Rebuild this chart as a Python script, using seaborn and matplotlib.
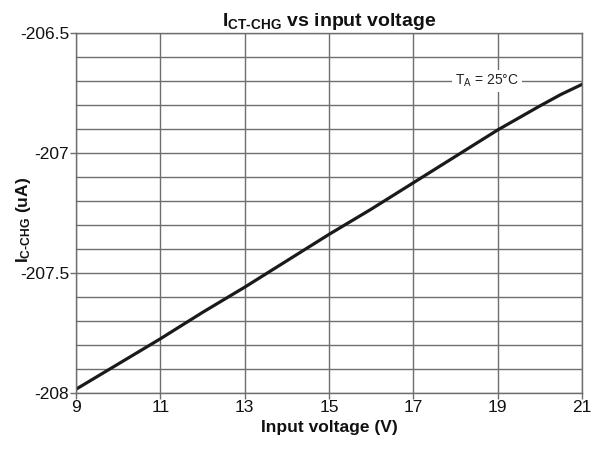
import matplotlib
matplotlib.use("Agg")
import matplotlib.pyplot as plt
import seaborn as sns
import pandas as pd
from matplotlib.ticker import MultipleLocator, FuncFormatter

voltage = [9, 10, 11, 12, 13, 14, 15, 16, 17, 18, 19, 20, 20.5, 21]
current = [-207.985, -207.88, -207.775, -207.665, -207.56, -207.45, -207.34,
           -207.235, -207.125, -207.015, -206.905, -206.805, -206.757, -206.715]
x_ticks = [9, 11, 13, 15, 17, 19, 21]
y_ticks = [-208, -207.5, -207, -206.5]

sns.set_theme(style="white")
plt.rcParams['font.family'] = ['Liberation Sans', 'DejaVu Sans']
plt.rcParams['mathtext.default'] = 'regular'

df = pd.DataFrame({"V": voltage, "I": current})

fig = plt.figure(figsize=(5.98, 4.5), dpi=100)
ax = fig.add_axes([0.127, 0.127, 0.846, 0.8])

grid_c = "#6e6e6e"
ax.set_xlim(9, 21)
ax.set_ylim(-208, -206.5)
ax.set_xticks(x_ticks)
ax.set_yticks(y_ticks)
ax.yaxis.set_minor_locator(MultipleLocator(0.1))
ax.yaxis.set_major_formatter(FuncFormatter(lambda v, p: f"{v:g}"))
ax.grid(True, which="major", axis="x", color=grid_c, linewidth=1.0)
ax.grid(True, which="both", axis="y", color=grid_c, linewidth=1.0)
ax.set_axisbelow(True)

sns.lineplot(data=df, x="V", y="I", ax=ax, color="#1a1a1a", linewidth=2.3)

for s in ax.spines.values():
    s.set_color(grid_c)
    s.set_linewidth(1.0)

ax.tick_params(axis="both", which="major", direction="out", length=4, width=1,
               color=grid_c, labelsize=12.5, pad=1, bottom=True, left=True,
               labelcolor="#111111")
ax.tick_params(axis="y", which="minor", length=0)

ax.set_xlabel("Input voltage (V)", fontsize=12.5, fontweight="bold", labelpad=4,
              color="#111111")
ax.set_ylabel("I$_{C\u2010CHG}$ (uA)", fontsize=12.5, fontweight="bold",
              color="#111111")
ax.yaxis.set_label_coords(-0.085, 0.48)
ax.set_title("I$_{CT\u2010CHG}$ vs input voltage", fontsize=14, fontweight="bold", pad=5,
             color="#111111")

ax.text(18.75, -206.7, "T$_{A}$ = 25°C", fontsize=10, ha="center", va="center",
        color="#222222", bbox=dict(facecolor="white", edgecolor="none", pad=2))

fig.savefig("out.png", dpi=100)
